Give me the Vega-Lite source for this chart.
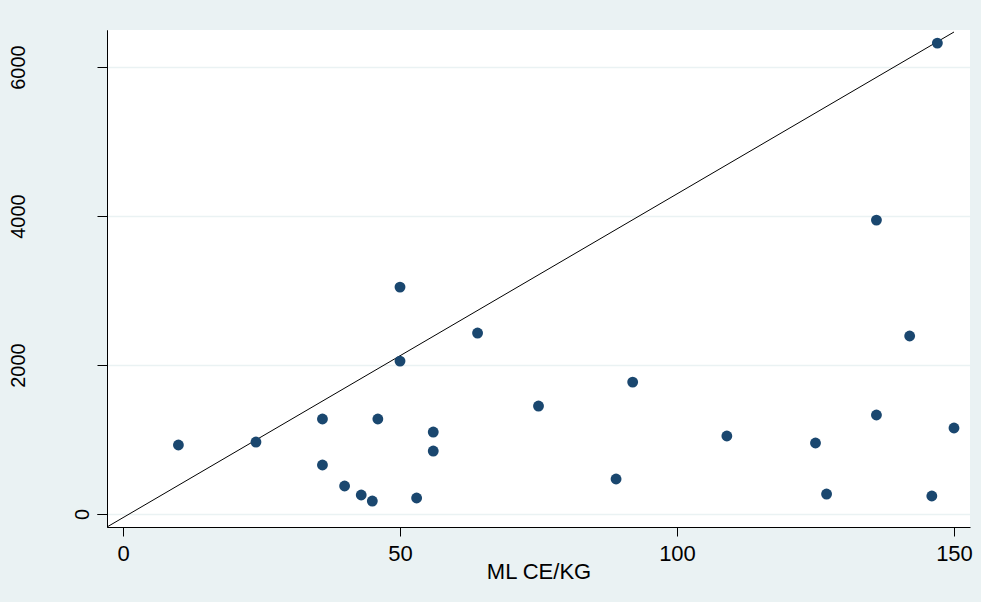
{
  "$schema": "https://vega.github.io/schema/vega-lite/v6.json",
  "width": 863,
  "height": 497,
  "autosize": {"type": "none"},
  "padding": {"left": 107, "top": 30, "right": 11, "bottom": 75},
  "background": "#eaf2f3",
  "config": {
    "view": {"fill": "white", "stroke": null},
    "font": "Liberation Sans"
  },
  "datasets": {
    "points": [
      {"ml": 10, "val": 926},
      {"ml": 24, "val": 966},
      {"ml": 36, "val": 1275},
      {"ml": 36, "val": 658},
      {"ml": 40, "val": 376},
      {"ml": 43, "val": 255},
      {"ml": 45, "val": 174},
      {"ml": 46, "val": 1275},
      {"ml": 50, "val": 3046},
      {"ml": 50, "val": 2053},
      {"ml": 53, "val": 215},
      {"ml": 56, "val": 1100},
      {"ml": 56, "val": 845},
      {"ml": 64, "val": 2429},
      {"ml": 75, "val": 1449},
      {"ml": 89, "val": 470},
      {"ml": 92, "val": 1771},
      {"ml": 109, "val": 1047},
      {"ml": 125, "val": 953},
      {"ml": 127, "val": 268},
      {"ml": 136, "val": 3945},
      {"ml": 136, "val": 1329},
      {"ml": 142, "val": 2389},
      {"ml": 146, "val": 242},
      {"ml": 147, "val": 6321},
      {"ml": 150, "val": 1154}
    ],
    "diag": [
      {"ml": -2.89, "val": -174.5},
      {"ml": 150, "val": 6470}
    ]
  },
  "resolve": {"axis": {"y": "independent"}, "scale": {"y": "shared"}},
  "layer": [
    {
      "data": {"name": "diag"},
      "mark": {"type": "line", "color": "black", "strokeWidth": 1, "clip": true},
      "encoding": {
        "x": {"field": "ml", "type": "quantitative"},
        "y": {
          "field": "val",
          "type": "quantitative",
          "axis": {
            "orient": "left",
            "title": null,
            "values": [0],
            "format": "d",
            "grid": false,
            "domainColor": "black",
            "tickColor": "black",
            "tickSize": 10,
            "labelFontSize": 20,
            "labelColor": "black",
            "labelAngle": 270,
            "labelAlign": "center",
            "labelBaseline": "alphabetic",
            "labelFlush": false,
            "labelPadding": 9
          }
        }
      }
    },
    {
      "data": {"name": "points"},
      "mark": {"type": "circle", "size": 118, "color": "#1a476f", "opacity": 1},
      "encoding": {
        "x": {
          "field": "ml",
          "type": "quantitative",
          "scale": {"domain": [-2.89, 152.89], "nice": false, "zero": false},
          "axis": {
            "title": "ML CE/KG",
            "values": [0, 50, 100, 150],
            "format": "d",
            "grid": false,
            "domainColor": "black",
            "domainWidth": 1,
            "tickColor": "black",
            "tickWidth": 1,
            "tickSize": 9,
            "labelFontSize": 22,
            "labelColor": "black",
            "labelPadding": 7,
            "labelFlush": false,
            "titleFontSize": 22,
            "titleFontWeight": "normal",
            "titleColor": "black",
            "titlePadding": -3
          }
        },
        "y": {
          "field": "val",
          "type": "quantitative",
          "scale": {"domain": [-174.5, 6497], "nice": false, "zero": false},
          "axis": {
            "orient": "left",
            "title": null,
            "values": [0, 2000, 4000, 6000],
            "format": "d",
            "labelExpr": "datum.value == 0 ? '' : datum.label",
            "grid": true,
            "gridColor": "#eaf2f3",
            "gridWidth": 1.5,
            "domainColor": "black",
            "tickColor": "black",
            "tickSize": 10,
            "labelFontSize": 20,
            "labelColor": "black",
            "labelAngle": 270,
            "labelAlign": "center",
            "labelBaseline": "alphabetic",
            "labelFlush": false,
            "labelPadding": 73
          }
        }
      }
    }
  ]
}
